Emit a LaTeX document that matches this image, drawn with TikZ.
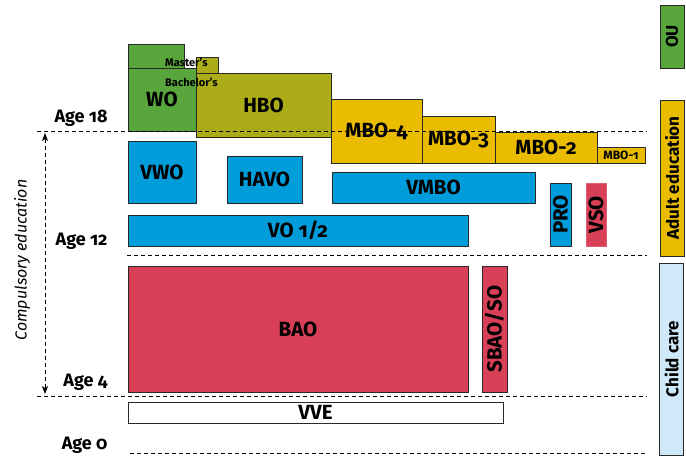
\documentclass[tikz,border=0pt]{standalone}
\usepackage{fontspec}
\setmainfont{Fira Sans}[Numbers=OldStyle]
\usetikzlibrary{arrows.meta, positioning}

\definecolor{cwo}{RGB}{88,166,60}
\definecolor{chbo}{RGB}{172,172,24}
\definecolor{cmbo}{RGB}{233,188,0}
\definecolor{cvo}{RGB}{0,157,218}
\definecolor{cbao}{RGB}{216,64,88}
\definecolor{ccare}{RGB}{207,232,250}
\definecolor{cline}{RGB}{40,40,40}

\begin{document}
\begin{tikzpicture}[x=1pt,y=-1pt, blk/.style={rectangle,draw=cline,line width=0.9pt,inner sep=0pt,font=\fontsize{20.5}{20.5}\selectfont\bfseries}, side/.style={blk,rotate=90,font=\fontsize{17}{17}\selectfont\bfseries,minimum height=24pt}, age/.style={anchor=east,font=\fontsize{18}{18}\selectfont\bfseries}, small/.style={anchor=west,font=\fontsize{11}{11}\selectfont\bfseries,inner sep=0pt}, dline/.style={line width=0.9pt,dash pattern=on 4pt off 3pt}]
  \useasboundingbox (0,0) rectangle (686,458);
  % higher education
  \node[blk,fill=cwo,minimum width=56pt,minimum height=24pt](wom) at (156,56){};
  \node[blk,fill=cwo,minimum width=68pt,minimum height=63pt](wo) at (162,99.5){WO};
  \node[blk,fill=chbo,minimum width=22pt,minimum height=16pt](hbom) at (207,65){};
  \node[blk,fill=chbo,minimum width=135pt,minimum height=64pt](hbo) at (263.5,105){HBO};
  \node[small](master) at (165,62){Master's};
  \node[small](bachelor) at (165,82){Bachelor's};
  % MBO
  \node[blk,fill=cmbo,minimum width=91pt,minimum height=64pt](mbo4) at (376.5,131){MBO-4};
  \node[blk,fill=cmbo,minimum width=73pt,minimum height=47pt](mbo3) at (458.5,139.5){MBO-3};
  \node[blk,fill=cmbo,minimum width=102pt,minimum height=31pt](mbo2) at (546,147.5){MBO-2};
  \node[blk,fill=cmbo,minimum width=48pt,minimum height=16pt,font=\fontsize{12}{12}\selectfont\bfseries](mbo1) at (621,155){MBO-1};
  % secondary
  \node[blk,fill=cvo,minimum width=68pt,minimum height=62pt](vwo) at (162,172){VWO};
  \node[blk,fill=cvo,minimum width=75pt,minimum height=47pt](havo) at (264.5,179.5){HAVO};
  \node[blk,fill=cvo,minimum width=203pt,minimum height=31pt](vmbo) at (433.5,187.5){VMBO};
  \node[blk,fill=cvo,minimum width=340pt,minimum height=31pt](vo) at (298,230.5){VO 1/2};
  \node[blk,fill=cvo,rotate=90,minimum width=63pt,minimum height=21pt](pro) at (560.5,214.5){PRO};
  \node[blk,fill=cbao,draw=cbao!85,rotate=90,minimum width=63pt,minimum height=20pt](vso) at (596,214.5){VSO};
  % primary
  \node[blk,fill=cbao,minimum width=340pt,minimum height=126pt](bao) at (298,329){BAO};
  \node[blk,fill=cbao,rotate=90,minimum width=126pt,minimum height=25pt](sbao) at (494.5,329){SBAO/SO};
  \node[blk,fill=white,minimum width=375pt,minimum height=21pt](vve) at (315.5,412.5){VVE};
  % right column
  \node[side,fill=cwo,minimum width=63pt](ou) at (672,36.5){OU};
  \node[side,fill=cmbo,minimum width=156pt](adult) at (672,178){Adult education};
  \node[side,fill=ccare,minimum width=192pt](care) at (671.5,359){Child care};
  % ages
  \node[age](a18) at (111,118){Age 18};
  \node[age](a12) at (111,241){Age 12};
  \node[age](a4) at (111,382){Age 4};
  \node[age](a0) at (111,445){Age 0};
  \coordinate (l18) at (37,131); \coordinate (r18) at (647,131);
  \coordinate (l12) at (127,255); \coordinate (r12) at (647,255);
  \coordinate (l4) at (37,396); \coordinate (r4) at (647,396);
  \coordinate (l0) at (130,453); \coordinate (r0) at (647,453);
  \foreach \x/\y in {l18/r18,l12/r12,l4/r4,l0/r0}{\draw[dline](\x)--(\y);}
  % compulsory education
  \coordinate (ctop) at (45,133); \coordinate (cbot) at (45,394);
  \draw[dline,{Stealth[length=8pt,width=6pt,inset=2pt]}-{Stealth[length=8pt,width=6pt,inset=2pt]}](ctop)--(cbot);
  \node[rotate=90,font=\fontsize{16}{16}\selectfont\itshape](comp) at (22,260){Compulsory education};
\end{tikzpicture}
\end{document}
